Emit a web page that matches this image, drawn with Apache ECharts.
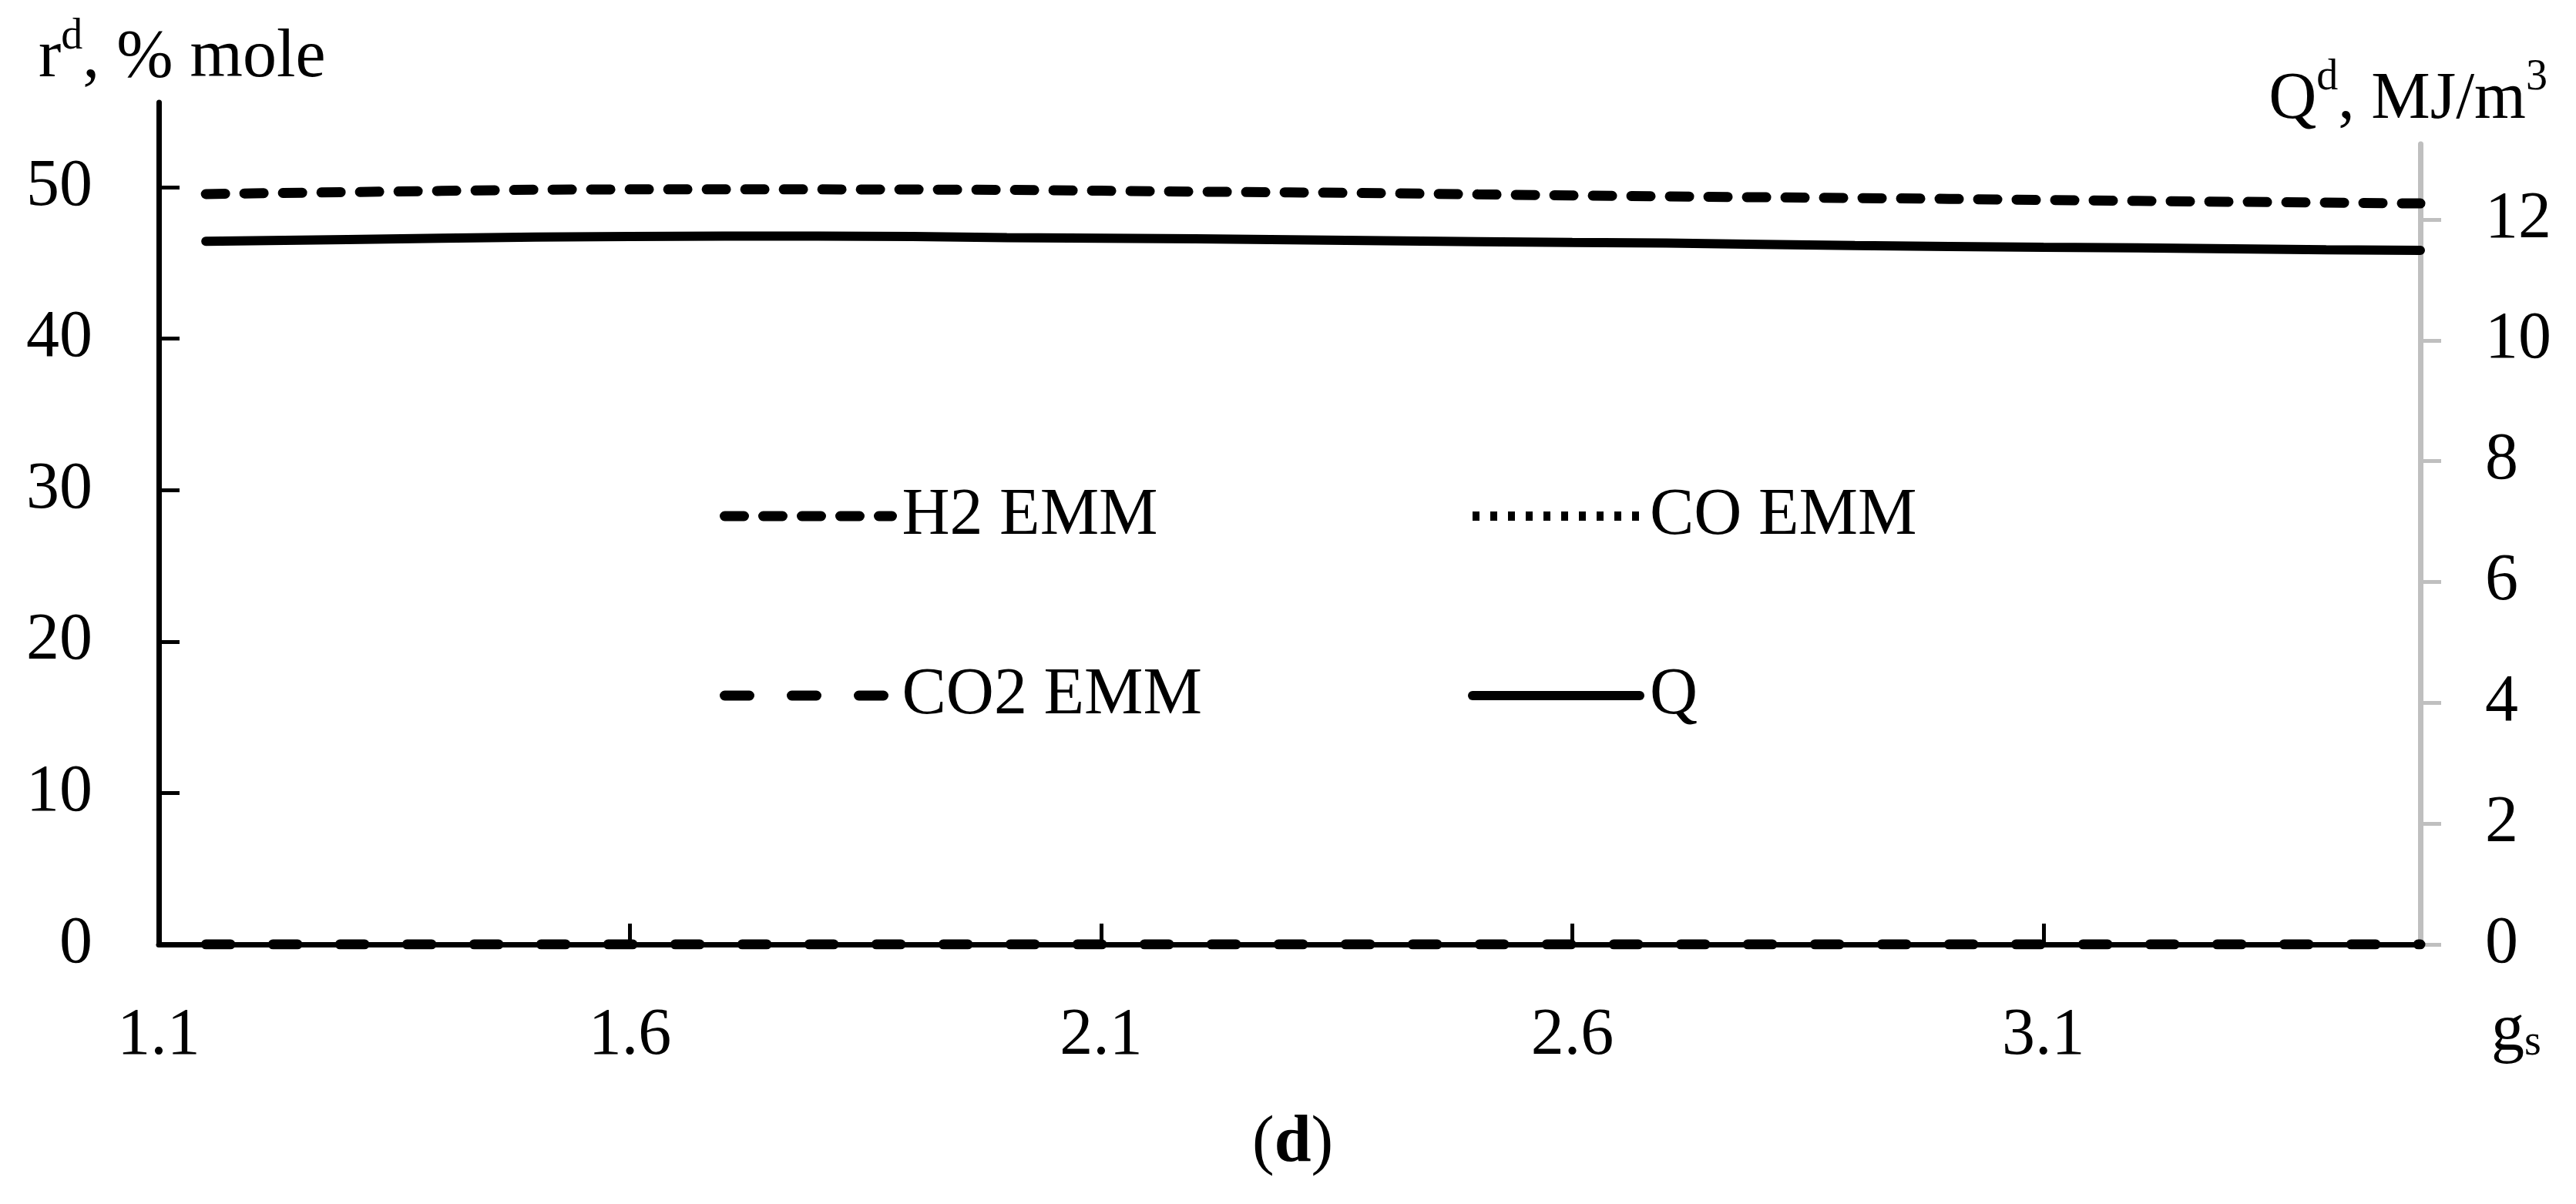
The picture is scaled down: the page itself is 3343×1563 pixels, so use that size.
<!DOCTYPE html>
<html>
<head>
<meta charset="utf-8">
<script src="https://cdn.jsdelivr.net/npm/echarts@6/dist/echarts.min.js"></script>
<style>
html,body{margin:0;padding:0;background:#fff;}
#chart{width:3343px;height:1563px;}
</style>
</head>
<body>
<div id="chart"></div>
<script>
// ---- data ----
const gs = [1.15, 1.2, 1.3, 1.4, 1.5, 1.6, 1.7, 1.8, 1.9, 2.0, 2.1, 2.2, 2.3, 2.4, 2.5, 2.6, 2.7, 2.8, 2.9, 3.0, 3.1, 3.2, 3.3, 3.4, 3.5];
const h2 = [49.55, 49.60, 49.68, 49.76, 49.84, 49.86, 49.86, 49.86, 49.85, 49.83, 49.77, 49.71, 49.66, 49.61, 49.53, 49.46, 49.40, 49.34, 49.29, 49.23, 49.16, 49.10, 49.04, 48.99, 48.93];
const co = []; // no visible CO line in the plot
const co2 = [0, 0, 0, 0, 0, 0, 0, 0, 0, 0, 0, 0, 0, 0, 0, 0, 0, 0, 0, 0, 0, 0, 0, 0, 0];
const q = [11.64, 11.65, 11.67, 11.69, 11.71, 11.72, 11.725, 11.725, 11.72, 11.70, 11.69, 11.68, 11.665, 11.65, 11.635, 11.62, 11.61, 11.59, 11.57, 11.555, 11.54, 11.53, 11.515, 11.50, 11.49];
const xTicks = [1.1, 1.6, 2.1, 2.6, 3.1];
const leftTicks = [0, 10, 20, 30, 40, 50];
const rightTicks = [0, 2, 4, 6, 8, 10, 12];
const seriesNames = ['H2 EMM', 'CO EMM', 'CO2 EMM', 'Q'];

const FONT = '"Liberation Serif", "Times New Roman", serif';
const FS = 86;
const pair = (xs, ys) => ys.map((v, i) => [xs[i], v]);

const styles = [
  {color: '#000', width: 13, type: [25, 25], cap: 'round'},
  {color: '#000', width: 12, type: [9, 14], cap: 'butt'},
  {color: '#000', width: 13, type: [32, 55], cap: 'round'},
  {color: '#000', width: 12, type: 'solid', cap: 'round'}
];

const chart = echarts.init(document.getElementById('chart'), null, {renderer: 'canvas'});

function makeLegend(i, left, top) {
  return {
    data: [seriesNames[i]], left: left, top: top,
    orient: 'horizontal', padding: 0, itemWidth: 217, itemHeight: 14, itemGap: 0,
    textStyle: {fontFamily: FONT, fontSize: FS, color: '#000', lineHeight: 90, padding: [0, 0, 0, 8]},
    lineStyle: Object.assign({}, styles[i]),
    itemStyle: {color: 'rgba(0,0,0,0)', borderColor: 'rgba(0,0,0,0)', borderWidth: 0, opacity: 0},
    selectedMode: false
  };
}

const option = {
  backgroundColor: '#fff',
  animation: false,
  grid: [
    {left: 206, right: 202, top: 133, bottom: 337},
    {left: 206, right: 202, top: 187, bottom: 337}
  ],
  xAxis: [
    {
      type: 'value', gridIndex: 0, min: 1.1, max: 3.5,
      axisLine: {show: true, lineStyle: {color: '#000', width: 7}},
      axisTick: {show: true, inside: true, length: 27, lineStyle: {color: '#000', width: 5}, customValues: xTicks},
      axisLabel: {customValues: xTicks, formatter: v => v.toFixed(1), fontFamily: FONT, fontSize: FS, color: '#000', margin: 76},
      splitLine: {show: false}
    },
    {type: 'value', gridIndex: 1, min: 1.1, max: 3.5, show: false, splitLine: {show: false}}
  ],
  yAxis: [
    {
      type: 'value', gridIndex: 0, min: 0, max: 55.6, position: 'left',
      axisLine: {show: true, lineStyle: {color: '#000', width: 7}},
      axisTick: {show: true, inside: true, length: 27, lineStyle: {color: '#000', width: 5}, customValues: leftTicks},
      axisLabel: {customValues: leftTicks, fontFamily: FONT, fontSize: FS, color: '#000', margin: 86},
      splitLine: {show: false}
    },
    {
      type: 'value', gridIndex: 1, min: 0, max: 13.25, position: 'right',
      axisLine: {show: true, lineStyle: {color: '#bfbfbf', width: 7}},
      axisTick: {show: true, inside: false, length: 27, lineStyle: {color: '#bfbfbf', width: 5}, customValues: rightTicks},
      axisLabel: {customValues: rightTicks, fontFamily: FONT, fontSize: FS, color: '#000', margin: 84},
      splitLine: {show: false}
    }
  ],
  legend: [
    makeLegend(0, 934, 625),
    makeLegend(1, 1905, 625),
    makeLegend(2, 934, 858),
    makeLegend(3, 1905, 858)
  ],
  series: seriesNames.map((name, i) => ({
    name: name, type: 'line',
    xAxisIndex: i === 3 ? 1 : 0, yAxisIndex: i === 3 ? 1 : 0,
    data: pair(gs, [h2, co, co2, q][i]),
    showSymbol: false, symbol: 'none', z: 4,
    lineStyle: Object.assign({}, styles[i]),
    itemStyle: {color: '#000'}
  })),
  graphic: [
    {
      type: 'text', left: 50, top: 20,
      style: {
        text: '{a|r}{s|d}{a|, % mole}',
        rich: {
          a: {fontFamily: FONT, fontSize: 88, color: '#000', lineHeight: 100, verticalAlign: 'bottom'},
          s: {fontFamily: FONT, fontSize: 56, color: '#000', lineHeight: 70, verticalAlign: 'top'}
        }
      }
    },
    {
      type: 'text', right: 3343 - 3306, top: 73,
      style: {
        text: '{a|Q}{s|d}{a|, MJ/m}{s|3}',
        rich: {
          a: {fontFamily: FONT, fontSize: FS, color: '#000', lineHeight: 100, verticalAlign: 'bottom'},
          s: {fontFamily: FONT, fontSize: 56, color: '#000', lineHeight: 70, verticalAlign: 'top'}
        }
      }
    },
    {
      type: 'text', left: 3233, top: 1296,
      style: {
        text: '{a|g}{s|s}',
        rich: {
          a: {fontFamily: FONT, fontSize: FS, color: '#000', lineHeight: 100, verticalAlign: 'bottom'},
          s: {fontFamily: FONT, fontSize: 56, color: '#000', lineHeight: 40, verticalAlign: 'bottom'}
        }
      }
    },
    {
      type: 'text', left: 1625, top: 1442,
      style: {
        text: '{a|(}{b|d}{a|)}',
        rich: {
          a: {fontFamily: FONT, fontSize: FS, color: '#000', lineHeight: 100},
          b: {fontFamily: FONT, fontSize: FS, fontWeight: 'bold', color: '#000', lineHeight: 100}
        }
      }
    }
  ]
};
chart.setOption(option);
</script>
</body>
</html>
